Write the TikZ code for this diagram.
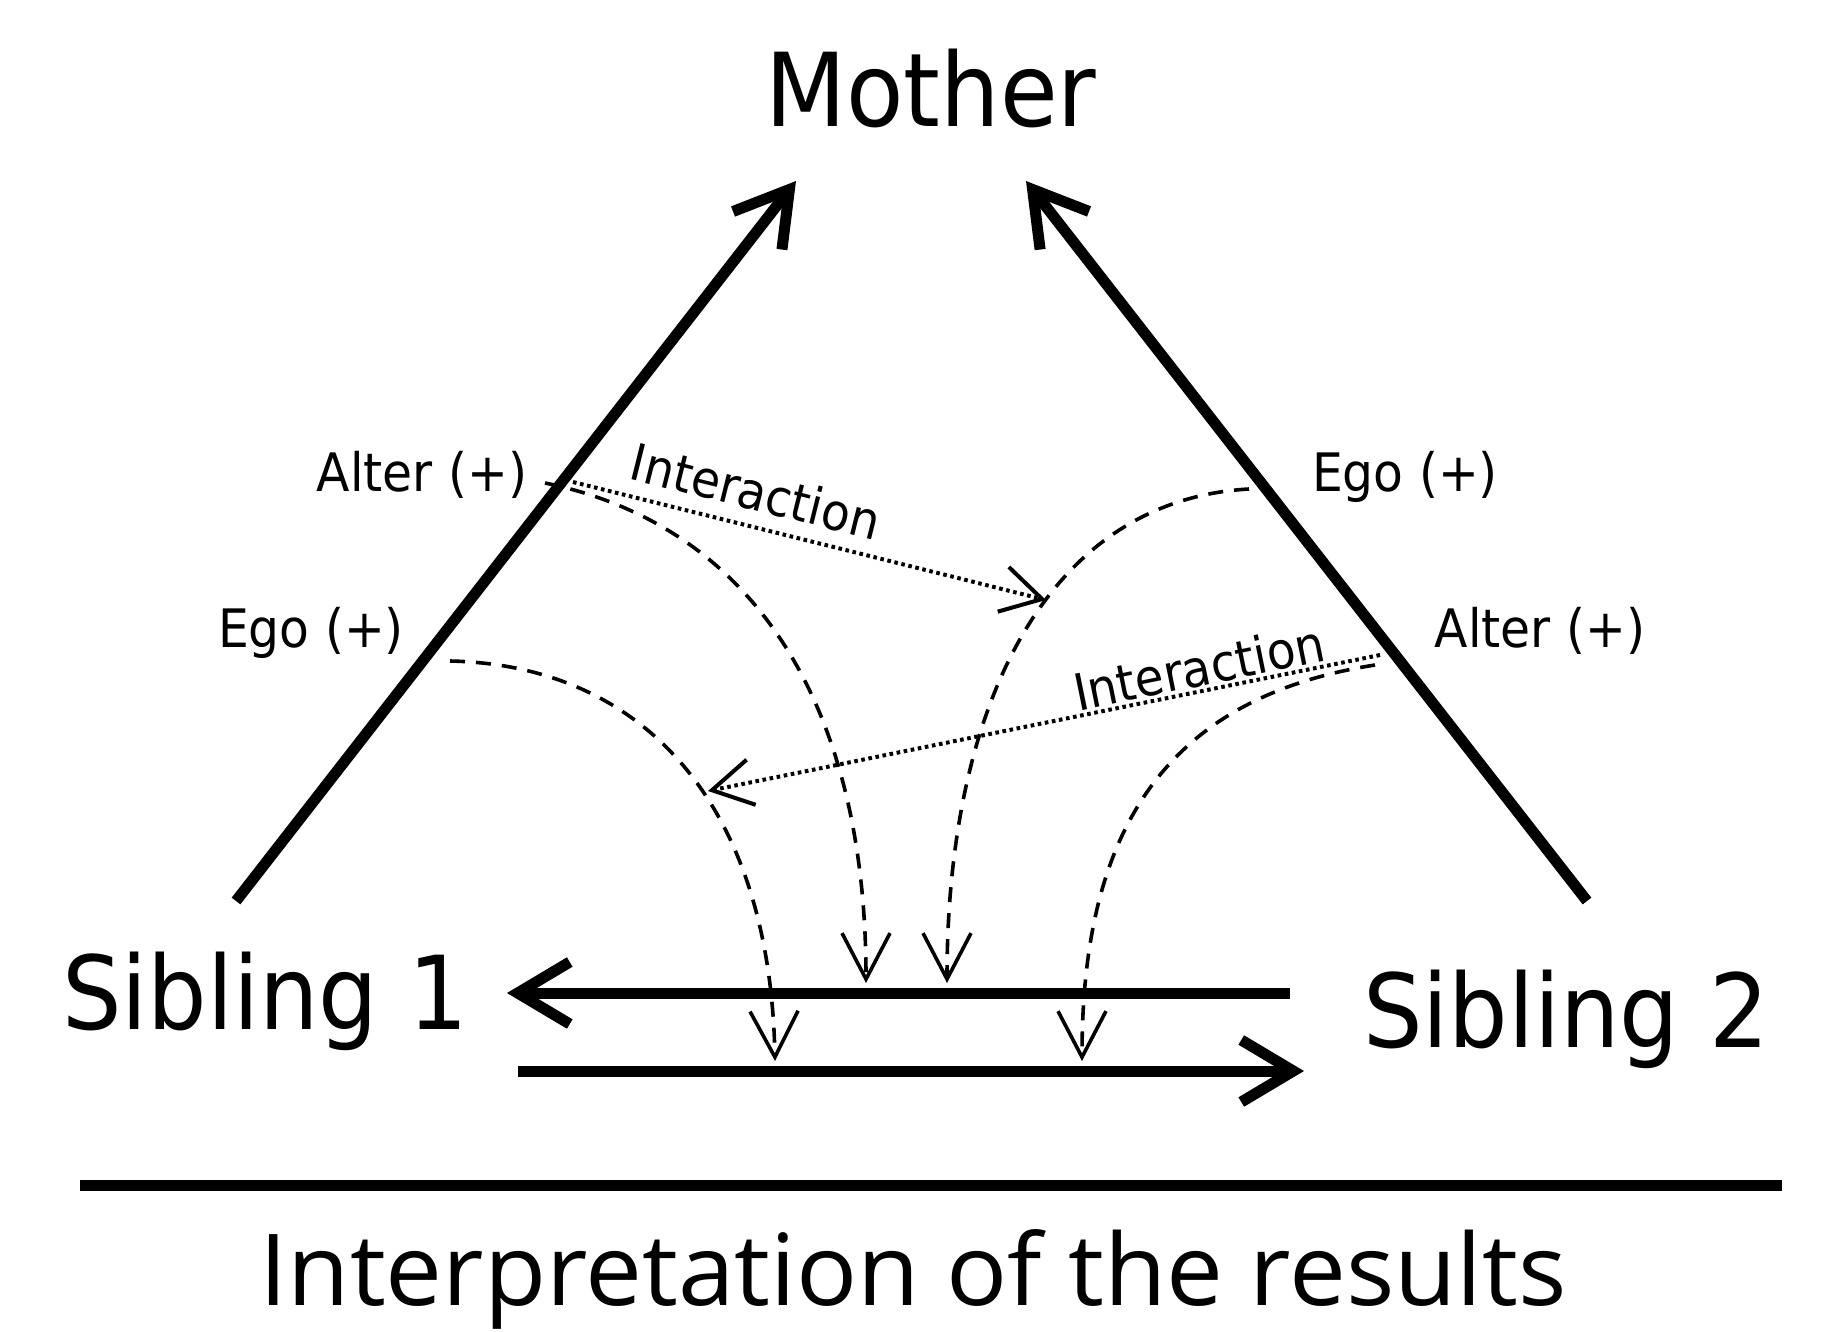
\documentclass[tikz,border=0pt]{standalone}
\usepackage{graphicx}
\usepackage{fontspec}
\setmainfont{DejaVu Sans}[FakeStretch=0.92]
\newfontfamily\captionfont{Open Sans}
\usetikzlibrary{arrows.meta}

\begin{document}
\begin{tikzpicture}[x=1pt,y=-1pt,
  heavy/.style={line width=11pt, -{Straight Barb[length=52pt,width=62pt]}},
  influence/.style={line width=3.6pt, dash pattern=on 15pt off 11pt,
    -{Straight Barb[length=46pt,width=48pt]}},
  interact/.style={line width=4pt, dash pattern=on 3.6pt off 3.6pt,
    -{Straight Barb[length=40pt,width=46pt]}},
  bigname/.style={inner sep=0pt, anchor=base, font=\fontsize{102}{110}\selectfont},
  role/.style={inner sep=0pt, anchor=base, font=\fontsize{53}{60}\selectfont},
  itag/.style={inner sep=0pt, font=\fontsize{51}{60}\selectfont},
]
\useasboundingbox[fill=white] (0,0) rectangle (1834,1331);

% family members
\node[bigname] (mother) at (931,126) {Mother};
\node[bigname] (sib1) at (265,1029) {Sibling 1};
\node[bigname] (sib2) at (1566,1047) {Sibling 2};

% roles along the sibling-to-mother lines
\node[role] (alterL) at (422,491) {Alter (+)};
\node[role] (egoL) at (311,647) {Ego (+)};
\node[role] (egoR) at (1405,491) {Ego (+)};
\node[role] (alterR) at (1540,647) {Alter (+)};

% end points of the connectors
\coordinate (mL) at (796,181);
\coordinate (mR) at (1026,181);
\coordinate (s1up) at (236,901);
\coordinate (s2up) at (1587,901);
\coordinate (topR) at (1290,993);
\coordinate (topL) at (507,993);
\coordinate (botL) at (518,1071);
\coordinate (botR) at (1304,1071);

% sibling -> mother
\draw[heavy] (s1up) -- (mL);
\draw[heavy] (s2up) -- (mR);

% sibling <-> sibling
\draw[heavy] (topR) -- (topL);
\draw[heavy] (botL) -- (botR);

% influence curves
\coordinate (c1s) at (545,483);  \coordinate (c1e) at (866,983);
\coordinate (c2s) at (450,661);  \coordinate (c2e) at (775,1061);
\coordinate (c3s) at (1249,489); \coordinate (c3e) at (947,983);
\coordinate (c4s) at (1375,665); \coordinate (c4e) at (1082,1061);
\draw[influence] (c1s) .. controls (750,525) and (866,700) .. (c1e);
\draw[influence] (c2s) .. controls (640,665) and (770,800) .. (c2e);
\draw[influence] (c3s) .. controls (1050,500) and (947,700) .. (c3e);
\draw[influence] (c4s) .. controls (1150,700) and (1082,850) .. (c4e);

% interactions
\coordinate (i1s) at (573,482);  \coordinate (i1e) at (1046,600);
\coordinate (i2s) at (1380,655); \coordinate (i2e) at (708,791);
\draw[interact] (i1s) -- (i1e);
\draw[interact] (i2s) -- (i2e);
\node[itag, rotate=-14] (int1) at (756,491) {Interaction};
\node[itag, rotate=11.5] (int2) at (1199,667) {Interaction};

% caption
\coordinate (ruleL) at (80,1185);
\coordinate (ruleR) at (1782,1185);
\draw[line width=11pt] (ruleL) -- (ruleR);
\node[anchor=base, inner sep=0pt] (caption) at (913,1305)
  {\resizebox{1307pt}{76pt}{\captionfont\fontsize{100}{100}\selectfont Interpretation of the results}};
\end{tikzpicture}
\end{document}
